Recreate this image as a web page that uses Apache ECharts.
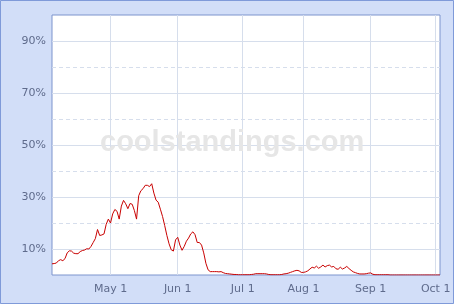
<!DOCTYPE html>
<html><head><meta charset="utf-8">
<script src="https://cdn.jsdelivr.net/npm/echarts@6/dist/echarts.min.js"></script>
<style>html,body{margin:0;padding:0;background:#d2def8}#c{width:454px;height:304px}</style>
</head><body><div id="c"></div>
<script>
// Season days (category axis), All-Star break days have no data point
const startDate = '2010-04-04';
const endDate = '2010-10-03';
const skipDates = ['2010-07-12', '2010-07-13', '2010-07-14'];
const monthTickDates = ['2010-05-01', '2010-06-01', '2010-07-01', '2010-08-01', '2010-09-01', '2010-10-01'];
const monthTickLabels = ['May 1', 'Jun 1', 'Jul 1', 'Aug 1', 'Sep 1', 'Oct 1'];
const yTickValues = [10, 30, 50, 70, 90];
const yTickLabels = ['10%', '30%', '50%', '70%', '90%'];
// playoff odds (%)
const odds = [
 4.3, 4.4, 4.6, 5.5, 5.9, 5.5, 6.3, 8.5, 9.3, 9.2,
 8.4, 8.2, 8.2, 9.0, 9.4, 9.6, 10.1, 10.0, 11.0, 12.5,
 14.0, 17.5, 15.2, 15.4, 15.8, 19.5, 21.5, 20.0, 23.5, 25.2,
 24.5, 21.5, 26.5, 28.7, 27.4, 25.5, 27.5, 27.2, 24.8, 21.5,
 30.5, 32.4, 33.2, 34.5, 34.5, 34.0, 35.1, 31.5, 28.8, 28.0,
 25.3, 22.5, 19.0, 15.2, 12.0, 9.7, 9.2, 13.5, 14.5, 11.5,
 9.5, 11.0, 13.0, 14.2, 15.8, 16.6, 15.5, 12.5, 12.5, 11.5,
 8.5, 4.5, 2.0, 1.3, 1.3, 1.3, 1.3, 1.2, 1.3, 0.9,
 0.6, 0.5, 0.4, 0.3, 0.2, 0.2, 0.1, 0.1, 0.1, 0.1,
 0.1, 0.1, 0.2, 0.3, 0.5, 0.5, 0.5, 0.5, 0.5, 0.4,
 0.2, 0.1, 0.1, 0.1, 0.1, 0.1, 0.2, 0.4, 0.5, 0.7,
 1.0, 1.3, 1.6, 1.8, 1.6, 1.0, 1.0, 1.2, 1.6, 2.3,
 3.0, 2.7, 3.4, 2.6, 3.1, 3.8, 3.1, 3.6, 3.8, 3.1,
 3.3, 2.4, 2.2, 3.0, 2.3, 2.7, 3.3, 2.5, 1.8, 1.2,
 0.9, 0.6, 0.4, 0.4, 0.4, 0.5, 0.7, 0.8, 0.3, 0.1,
 0.1, 0.1, 0.1, 0.1, 0.1, 0.1, 0.0, 0.0, 0.0, 0.0,
 0.0, 0.0, 0.0, 0.0, 0.0, 0.0, 0.0, 0.0, 0.0, 0.0,
 0.0, 0.0, 0.0, 0.0, 0.0, 0.0, 0.0, 0.0, 0.0, 0.0
];

function iso(d) { return d.toISOString().slice(0, 10); }
const days = [];
for (let d = new Date(startDate + 'T00:00:00Z'); iso(d) <= endDate; d.setUTCDate(d.getUTCDate() + 1)) {
  const s = iso(d);
  if (skipDates.indexOf(s) < 0) days.push(s);
}
const isMonthTick = (idx, val) => monthTickDates.indexOf(days[idx]) >= 0;
const grid = '#d6deec';
const font = 'DejaVu Sans, Verdana, sans-serif';

const chart = echarts.init(document.getElementById('c'), null, {renderer: 'canvas'});
chart.setOption({
  animation: false,
  backgroundColor: '#d2def8',
  grid: {left: 52, top: 15, right: 14, bottom: 29, show: true, backgroundColor: '#ffffff', borderColor: '#7d94cd', borderWidth: 1},
  graphic: [
    {type: 'rect', z: 100, silent: true, shape: {x: 0.5, y: 0.5, width: 453, height: 303},
     style: {fill: 'none', stroke: '#7f9ad9', lineWidth: 1}},
    {type: 'text', z: 1, silent: true, left: 100, top: 128,
     style: {text: 'coolstandings.com', font: 'bold 29px "Liberation Sans", Arial, sans-serif', fill: '#e6e6e6',
       shadowColor: 'rgba(0,0,0,0.08)', shadowBlur: 2, shadowOffsetX: 1, shadowOffsetY: 1}}
  ],
  xAxis: {
    type: 'category', data: days, boundaryGap: false,
    axisLine: {show: false}, axisTick: {show: false},
    axisLabel: {interval: isMonthTick, color: '#5f6b8c', fontFamily: font, fontSize: 11, margin: 9,
      formatter: v => monthTickLabels[monthTickDates.indexOf(v)]},
    splitLine: {show: true, interval: isMonthTick, lineStyle: {color: grid, width: 1}}
  },
  yAxis: [
    {type: 'value', min: 0, max: 100, interval: 10,
     axisLine: {show: false}, axisTick: {show: false},
     axisLabel: {color: '#5f6b8c', fontFamily: font, fontSize: 11, margin: 6,
       formatter: v => { const k = yTickValues.indexOf(v); return k >= 0 ? yTickLabels[k] : ''; }},
     splitLine: {show: true, lineStyle: {color: ['rgba(0,0,0,0)', grid], width: 1}}},
    {type: 'value', min: 0, max: 100, interval: 20, position: 'left',
     axisLine: {show: false}, axisTick: {show: false}, axisLabel: {show: false},
     splitLine: {show: true, lineStyle: {color: ['rgba(0,0,0,0)', grid, grid, grid, grid, 'rgba(0,0,0,0)'], type: [4, 3], width: 1}}}
  ],
  series: [{
    type: 'line', data: odds, yAxisIndex: 0, showSymbol: false, symbol: 'none',
    lineStyle: {color: '#c80000', width: 1}, z: 5
  }]
});
</script></body></html>
